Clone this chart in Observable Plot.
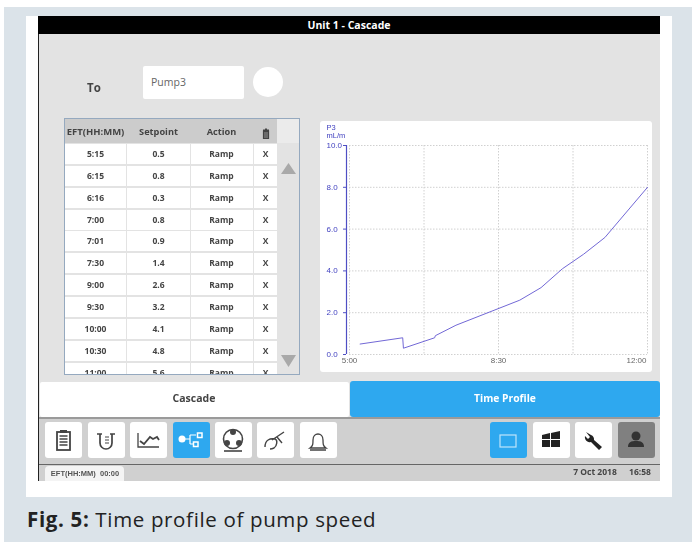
<!DOCTYPE html>
<html><head><meta charset="utf-8">
<script src="https://cdn.jsdelivr.net/npm/d3@7"></script>
<script src="https://cdn.jsdelivr.net/npm/@observablehq/plot@0.6"></script>
<style>
html,body{margin:0;padding:0;width:692px;height:543px;overflow:hidden;background:#fff}
#page{position:relative;width:692px;height:543px;overflow:hidden;font-family:"Open Sans",sans-serif;filter:blur(.35px)}
#page div{position:absolute;box-sizing:border-box}
.lbl{white-space:nowrap;text-align:center}
</style></head><body><div id="page"></div>
<script>
// Time profile table
const eft = ["5:15","6:15","6:16","7:00","7:01","7:30","9:00","9:30","10:00","10:30","11:00","12:00"];
const setpoint = [0.5,0.8,0.3,0.8,0.9,1.4,2.6,3.2,4.1,4.8,5.6,8.0];
const action = "Ramp";
const headers = ["EFT(HH:MM)","Setpoint","Action"];
const visibleRows = 11;
const xDomain = ["5:00","12:00"];
const xGrid = ["5:00","6:45","8:30","10:15","12:00"];
const xLabels = ["5:00","8:30"];
const xLabelEnd = ["12:00"];
const yTicks = [0,2,4,6,8,10];

const minutes = s => { const [h,m] = s.split(":").map(Number); return h*60+m; };
const hhmm = v => `${Math.floor(v/60)}:${String(v%60).padStart(2,"0")}`;
const profile = eft.map((t,i)=>({t:minutes(t),v:setpoint[i]}));

const page = document.getElementById("page");
function box(l,t,w,h,style={},html=""){
  const d=document.createElement("div");
  Object.assign(d.style,{left:l+"px",top:t+"px",width:w+"px",height:h+"px"},style);
  d.innerHTML=html; page.appendChild(d); return d;
}
function label(text,cx,cy,style={}){
  const d=document.createElement("div"); d.className="lbl"; d.textContent=text;
  Object.assign(d.style,{left:(cx-100)+"px",width:"200px",top:(cy-10)+"px",height:"20px",lineHeight:"20px",fontWeight:700,color:"#444",fontSize:"8.5px"},style);
  page.appendChild(d); return d;
}
// backdrop and figure panel
box(4,7,688,535,{background:"#dbe3e9"});
box(26,16,646,481,{background:"#fff"});
box(38,16,622,465,{background:"#e3e3e3",borderLeft:"1px solid #222"});
box(38,16,622,18,{background:"#000"});
label("Unit 1 - Cascade",349,25,{color:"#fff",fontSize:"10.5px"});
label("To",94,88,{fontSize:"11.5px"});
box(143,66,101,33,{background:"#fff",borderRadius:"2px"});
label("Pump3",168.5,82,{fontWeight:400,fontSize:"10.5px",color:"#666"});
box(253,67,30,30,{background:"#fff",borderRadius:"50%"});

// table
box(63.5,118,236,256.5,{border:"1px solid #95a9bf",background:"#e3e3e3"});
box(64.5,119,212.5,24,{background:"#ccc"});
box(277,119,22,24,{background:"#ebebeb"});
const colX=[64.5,126.5,190.5,253.5,277];
const rowY=i=>143+i*21.85;
for(let i=0;i<visibleRows;i++){
  const top=rowY(i), h=Math.min(20,374-top);
  for(let c=0;c<4;c++) box(colX[c],top+1,colX[c+1]-colX[c]-(c<3?1:0),h,{background:"#fff"});
  const cy=top+11;
  const st={fontSize:"8.5px"};
  label(eft[i],95.5,cy,st);
  label(setpoint[i].toFixed(1),158.5,cy,st);
  label(action,221.5,cy,st);
  label("X",265.5,cy,st);
}
// mask of the clipped last row
box(64.5,374,235,7.5,{background:"#e3e3e3",borderTop:"1px solid #95a9bf"});
headers.forEach((h,i)=>label(h,[95.5,158.5,221.5][i],131.5,{fontSize:i===0?"9.5px":"9.2px"}));
box(261,124,10,13,{},`<svg width="10" height="13"><path d="M2 2h6M4 1h2M2.5 3h5v7.5h-5z" stroke="#444" stroke-width="1.2" fill="#444"/><path d="M4 4v6M6 4v6" stroke="#ccc" stroke-width=".6"/></svg>`);
box(281,157,15,11,{},`<svg width="15" height="11"><path d="M7.5 0L15 11H0z" fill="#a9a9a9"/></svg>`);
box(281,350,15,12,{},`<svg width="15" height="12"><path d="M0 0H15L7.5 12z" fill="#a9a9a9"/></svg>`);

// chart
const axisBlue="#4f4fc4";
const chart=Plot.plot({
  width:332,height:251,
  marginLeft:29,marginRight:5,marginTop:24,marginBottom:18,
  style:{fontFamily:"Liberation Sans, Arial, sans-serif",fontSize:"8px",background:"transparent",overflow:"visible"},
  x:{domain:xDomain.map(minutes),type:"linear"},
  y:{domain:[0,10]},
  marks:[
    Plot.ruleX(xGrid.map(minutes),{stroke:"#d0d0d0",strokeDasharray:"1.5,1.5"}),
    Plot.ruleY(yTicks,{stroke:"#d0d0d0",strokeDasharray:"1.5,1.5"}),
    Plot.ruleX([minutes(xDomain[0])],{y1:0,y2:10,dx:-3,stroke:axisBlue,strokeWidth:1.2}),
    Plot.axisY(yTicks,{tickSize:3,text:null,dx:-3,color:axisBlue,label:null}),
    Plot.axisY(yTicks,{tickSize:0,tickPadding:23,textAnchor:"start",tickFormat:d=>d.toFixed(1),color:"#4343c0",label:null}),
    Plot.axisX(xLabels.map(minutes),{tickSize:0,tickPadding:3,tickFormat:hhmm,color:"#666",label:null}),
    Plot.axisX(xLabelEnd.map(minutes),{tickSize:0,tickPadding:3,dx:-1,textAnchor:"end",tickFormat:hhmm,color:"#666",label:null}),
    Plot.line(profile,{x:"t",y:"v",stroke:"#7268d6",strokeWidth:1,curve:"linear"}),
    Plot.text(["P3\nmL/m"],{frameAnchor:"top-left",dx:-23,dy:-21,fill:"#4343c0",fontSize:7.5,lineHeight:1.05,textAnchor:"start"})
  ]
});
const panel=box(320,121,332,251,{background:"#fff",borderRadius:"3px"});
chart.style.display="block";
panel.appendChild(chart);

// tabs
box(40,382,309,35,{background:"#fff",borderRadius:"2px"});
label("Cascade",194,398,{fontSize:"10.5px"});
box(350,381,310,36,{background:"#2ea8ef",borderRadius:"3px"});
label("Time Profile",505,398,{fontSize:"10.3px",color:"#fff"});

// toolbar
box(39,417,621,47,{background:"#d0d0d0",borderTop:"2px solid #9a9a9a"});
box(39,464,621,17,{background:"#d0d0d0",borderTop:"1px solid #666"});
const ink="#444";
const icons=[
 [45,`<rect x="12" y="10" width="13" height="18" fill="none" stroke="${ink}" stroke-width="1.8"/><rect x="15" y="8" width="7" height="3" fill="${ink}"/><path d="M14.5 14h8M14.5 17h8M14.5 20h8M14.5 23h8" stroke="${ink}" stroke-width="1.3"/>`],
 [88,`<path d="M9 12h5M22 12h5M12 12v9a6 6 0 0 0 12 0v-9" fill="none" stroke="${ink}" stroke-width="1.7"/><path d="M17 15h4M17 18h4M17 21h4" stroke="${ink}" stroke-width="1"/>`],
 [130,`<path d="M8 11v14h21" fill="none" stroke="${ink}" stroke-width="1.3"/><path d="M10 19l4 3 6-7 3 2 4-2 2 3" fill="none" stroke="${ink}" stroke-width="1.8"/>`],
 [173,`<circle cx="9" cy="17" r="3.5" fill="#fff"/><path d="M12 17h5M17 13v9M17 13h6M17 22h3" stroke="#fff" stroke-width="1.2" fill="none"/><rect x="24.5" y="11" width="4.5" height="4.5" fill="none" stroke="#fff" stroke-width="1.5"/><rect x="20.5" y="20" width="4.5" height="4.5" fill="none" stroke="#fff" stroke-width="1.5"/>`],
 [215,`<circle cx="18" cy="17" r="9.5" fill="none" stroke="${ink}" stroke-width="1.6"/><circle cx="18" cy="10" r="3" fill="${ink}"/><circle cx="12" cy="21" r="3" fill="${ink}"/><circle cx="24" cy="21" r="3" fill="${ink}"/><path d="M9 29h18" stroke="${ink}" stroke-width="1.6"/>`],
 [257,`<path d="M8 25c0-7 5-9 10-8 3 1 2 7-1 9-2 1-3 1-4 1M15 18l12-8M20 15l5 6" fill="none" stroke="${ink}" stroke-width="1.4"/>`],
 [300,`<path d="M10 26c3-2 3-4 3-8 0-8 10-8 10 0 0 4 0 6 3 8zM10 28h16" fill="none" stroke="${ink}" stroke-width="1.3"/>`],
 [490,`<rect x="10" y="13" width="16" height="12" fill="none" stroke="#bfe4fa" stroke-width="1.2"/>`],
 [533,`<path d="M9 13l8-2v6H9zM18 11l9-2v8h-9zM9 18h8v7H9zM18 18h9v7h-9z" fill="#222"/>`],
 [575,`<path d="M11 10l5 3a5 5 0 0 1 3 5l8 7-3 3-8-8a5 5 0 0 1-6-6l3 3 2-2z" fill="#222"/>`],
 [618,`<circle cx="18" cy="14" r="4.5" fill="#333"/><path d="M10 25c0-5 3-6 8-6s8 1 8 6z" fill="#333"/>`]
];
icons.forEach(([x,svg],i)=>{
  const bg=(i===3||i===7)?"#2ea8ef":(i===10?"#808080":"#fff");
  box(x,422,37,36,{background:bg,borderRadius:"3px"},`<svg width="37" height="36" style="position:absolute;left:0;top:0">${svg}</svg>`);
});
// status
box(45,466,79,15,{background:"#f4f4f4",borderRadius:"4px 4px 0 0"});
label("EFT(HH:MM)  00:00",85,473.5,{fontFamily:"Liberation Sans,Arial,sans-serif",fontSize:"7.5px",color:"#555",whiteSpace:"pre"});
label("7 Oct 2018",595,472,{fontSize:"8.5px"});
label("16:58",640,472,{fontSize:"8.5px"});

// caption
const cap=document.createElement("div");
cap.innerHTML='<b>Fig. 5:</b> Time profile of pump speed';
Object.assign(cap.style,{left:"27px",top:"505px",width:"500px",height:"28px",lineHeight:"28px",fontSize:"20.5px",letterSpacing:"0.65px",color:"#222",whiteSpace:"nowrap",fontFamily:"'Open Sans',sans-serif"});
page.appendChild(cap);
</script></body></html>
